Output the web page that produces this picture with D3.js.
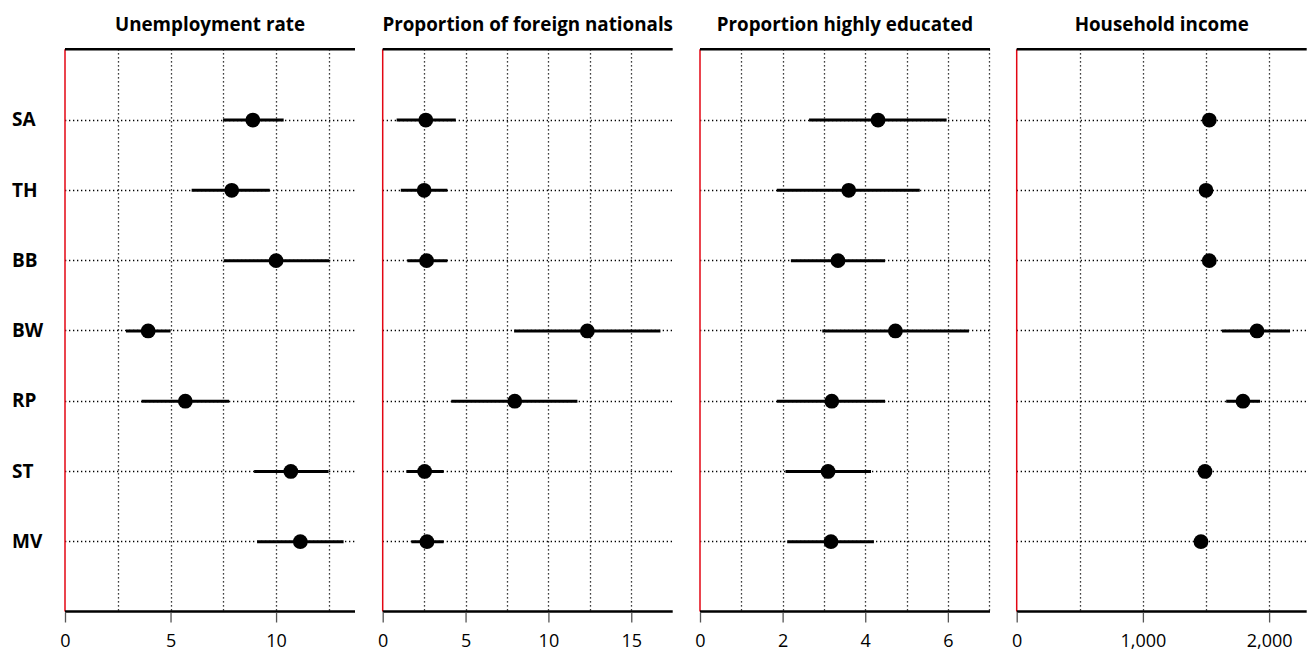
<!DOCTYPE html>
<meta charset="utf-8">
<script src="https://cdn.jsdelivr.net/npm/d3@7"></script>
<style>
body { margin: 0; background: #fff; }
text { font-family: "Open Sans", sans-serif; fill: #000; }
.title { font-size: 18.8px; font-weight: bold; }
.rowlab { font-size: 19px; font-weight: bold; }
</style>
<body>
<script>

// regions (rows, top to bottom)
var regions = ["SA", "TH", "BB", "BW", "RP", "ST", "MV"];

// panel titles
var titles = ["Unemployment rate", "Proportion of foreign nationals", "Proportion highly educated", "Household income"];

// point estimates per panel
var unemp     = [8.9, 7.9, 10.0, 3.94, 5.7, 10.7, 11.15];
var foreign   = [2.6, 2.5, 2.65, 12.35, 7.97, 2.53, 2.67];
var educated  = [4.31, 3.6, 3.34, 4.73, 3.19, 3.1, 3.17];
var income    = [1526, 1500, 1526, 1904, 1793, 1492, 1460];

// interval lows / highs
var unempLo    = [7.49, 6.0, 7.52, 2.89, 3.63, 8.96, 9.1];
var unempHi    = [10.36, 9.7, 12.51, 5.0, 7.78, 12.49, 13.2];
var foreignLo  = [0.84, 1.09, 1.49, 7.93, 4.14, 1.43, 1.73];
var foreignHi  = [4.41, 3.9, 3.9, 16.76, 11.75, 3.68, 3.68];
var educatedLo = [2.64, 1.86, 2.2, 2.96, 1.86, 2.07, 2.11];
var educatedHi = [5.97, 5.32, 4.48, 6.51, 4.48, 4.14, 4.21];
var incomeLo   = [1490, 1465, 1490, 1627, 1660, 1455, 1425];
var incomeHi   = [1562, 1535, 1562, 2166, 1928, 1528, 1495];

// axis settings
var domMax   = [13.74, 17.5, 7.02, 2298];
var gridStep = [2.5, 2.5, 1, 500];
var tickVals = [[0, 5, 10], [0, 5, 10, 15], [0, 2, 4, 6], [0, 1000, 2000]];

var panels = [
  {est: unemp, lo: unempLo, hi: unempHi},
  {est: foreign, lo: foreignLo, hi: foreignHi},
  {est: educated, lo: educatedLo, hi: educatedHi},
  {est: income, lo: incomeLo, hi: incomeHi}
];

var width = 1310, height = 652;
var yTop = 49.3, yBot = 611.5;
var panelX = [65, 382.7, 700, 1016.7], panelW = 290;

var svg = d3.select("body").append("svg")
    .attr("width", width)
    .attr("height", height);

var y = d3.scaleLinear().domain([0, regions.length + 1]).range([yTop, yBot]);

// row labels
svg.selectAll(".rowlab")
    .data(regions)
    .enter().append("text")
    .attr("class", "rowlab")
    .attr("x", 12)
    .attr("y", function(d, i) { return y(i + 1); })
    .attr("dy", "0.35em")
    .text(function(d) { return d; });

panels.forEach(function(p, k) {
  var x = d3.scaleLinear().domain([0, domMax[k]]).range([panelX[k], panelX[k] + panelW]);
  var g = svg.append("g");

  g.append("text")
      .attr("class", "title")
      .attr("x", panelX[k] + panelW / 2)
      .attr("y", 31)
      .attr("text-anchor", "middle")
      .text(titles[k]);

  // vertical grid
  var grid = d3.range(gridStep[k], domMax[k], gridStep[k]);
  g.selectAll(".vg")
      .data(grid)
      .enter().append("line")
      .attr("x1", function(d) { return Math.round(x(d)) + 0.5; })
      .attr("x2", function(d) { return Math.round(x(d)) + 0.5; })
      .attr("y1", yTop)
      .attr("y2", yBot)
      .attr("stroke", "#000")
      .attr("stroke-width", 1.3)
      .attr("stroke-dasharray", "1.3,2.7");

  // horizontal grid
  g.selectAll(".hg")
      .data(regions)
      .enter().append("line")
      .attr("x1", x(0))
      .attr("x2", x(domMax[k]))
      .attr("y1", function(d, i) { return Math.round(y(i + 1)) + 0.5; })
      .attr("y2", function(d, i) { return Math.round(y(i + 1)) + 0.5; })
      .attr("stroke", "#000")
      .attr("stroke-width", 1.3)
      .attr("stroke-dasharray", "1.3,2.7");

  // red zero line
  g.append("line")
      .attr("x1", x(0)).attr("x2", x(0))
      .attr("y1", yTop).attr("y2", yBot)
      .attr("stroke", "#e30613")
      .attr("stroke-width", 1.5);

  // top / bottom frame
  [yTop, yBot].forEach(function(yy) {
    g.append("line")
        .attr("x1", x(0)).attr("x2", x(domMax[k]))
        .attr("y1", yy).attr("y2", yy)
        .attr("stroke", "#000")
        .attr("stroke-width", 2.5);
  });

  // x axis
  var axis = g.append("g")
      .attr("transform", "translate(0," + (yBot + 1) + ")")
      .call(d3.axisBottom(x).tickValues(tickVals[k]).tickSize(10).tickPadding(12)
            .tickFormat(d3.format(",")));
  axis.select(".domain").remove();
  axis.selectAll(".tick line").attr("stroke", "#555").attr("stroke-width", 1.3);
  axis.selectAll(".tick text")
      .style("font-family", "'Open Sans', sans-serif")
      .style("font-size", "18px");

  // intervals
  g.selectAll(".ci")
      .data(regions)
      .enter().append("line")
      .attr("x1", function(d, i) { return x(p.lo[i]); })
      .attr("x2", function(d, i) { return x(p.hi[i]); })
      .attr("y1", function(d, i) { return y(i + 1) + 0.5; })
      .attr("y2", function(d, i) { return y(i + 1) + 0.5; })
      .attr("stroke", "#000")
      .attr("stroke-width", 3);

  // points
  g.selectAll(".pt")
      .data(regions)
      .enter().append("circle")
      .attr("cx", function(d, i) { return x(p.est[i]); })
      .attr("cy", function(d, i) { return y(i + 1) + 0.5; })
      .attr("r", 7.4)
      .attr("fill", "#000");
});

</script>
</body>
